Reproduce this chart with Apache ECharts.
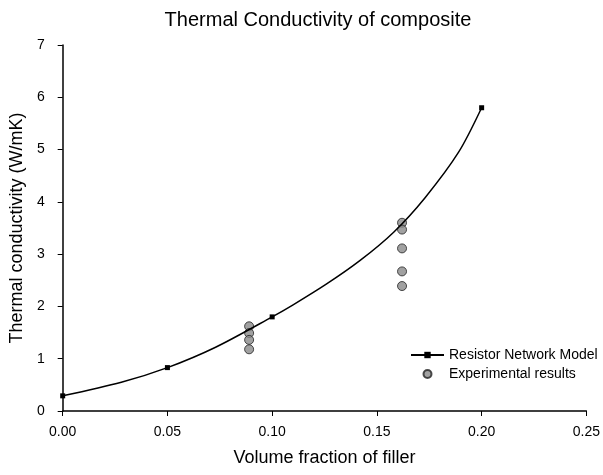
<!DOCTYPE html>
<html lang="en">
<head>
    <meta charset="UTF-8">
    <title>Thermal Conductivity of composite</title>
    <style>
        html, body { margin: 0; padding: 0; background: #fff; }
        #chart { width: 603px; height: 475px; }
    </style>
</head>
<body>
<div id="chart"></div>
<script src="https://cdn.jsdelivr.net/npm/echarts@6/dist/echarts.min.js"></script>
<script type="text/javascript">

    // model points (square markers)
    var modelX = [0.00, 0.05, 0.10, 0.20];
    var modelY = [0.29, 0.83, 1.80, 5.80];

    // model curve
    var curveX = [0.000, 0.028, 0.050, 0.073, 0.100, 0.110, 0.126, 0.142, 0.158, 0.173, 0.189, 0.200];
    var curveY = [0.29, 0.55, 0.83, 1.22, 1.80, 2.03, 2.43, 2.88, 3.42, 4.08, 4.95, 5.80];

    // experimental results
    var expX = [0.089, 0.089, 0.089, 0.089, 0.162, 0.162, 0.162, 0.162, 0.162];
    var expY = [1.62, 1.49, 1.36, 1.18, 3.60, 3.47, 3.11, 2.67, 2.39];

    var curveData = [];
    for (var i = 0; i < curveX.length; i++) {
        var item = { value: [curveX[i], curveY[i]] };
        if (modelX.indexOf(curveX[i]) < 0) item.symbol = 'none';
        curveData.push(item);
    }
    var expData = [];
    for (var j = 0; j < expX.length; j++) {
        expData.push([expX[j], expY[j]]);
    }

    var font = 'Liberation Sans, Arial, sans-serif';
    var myChart = echarts.init(document.getElementById('chart'));

    var option = {
        animation: false,
        backgroundColor: '#fff',
        title: {
            text: 'Thermal Conductivity of composite',
            left: 313,
            textAlign: 'center',
            top: 5,
            textStyle: { fontFamily: font, fontSize: 20, fontWeight: 'normal', color: '#000' }
        },
        grid: { left: 62, right: 15, top: 45, bottom: 64 },
        legend: {
            orient: 'vertical',
            left: 405,
            top: 343,
            itemWidth: 33,
            itemHeight: 8,
            itemGap: 5,
            textStyle: { fontFamily: font, fontSize: 14, color: '#000' },
            data: ['Resistor Network Model', 'Experimental results']
        },
        xAxis: {
            type: 'value',
            min: 0,
            max: 0.25,
            interval: 0.05,
            name: 'Volume fraction of filler',
            nameLocation: 'middle',
            nameGap: 38,
            nameTextStyle: { fontFamily: font, fontSize: 18, color: '#000' },
            splitLine: { show: false },
            axisLine: { lineStyle: { color: '#000', width: 1.5 } },
            axisTick: { length: 5, lineStyle: { color: '#000' } },
            axisLabel: {
                fontFamily: font, fontSize: 14, color: '#000', margin: 14,
                formatter: function (v) { return v.toFixed(2); }
            }
        },
        yAxis: {
            type: 'value',
            min: 0,
            max: 7,
            interval: 1,
            name: 'Thermal conductivity (W/mK)',
            nameLocation: 'middle',
            nameGap: 35,
            nameTextStyle: { fontFamily: font, fontSize: 18, color: '#000' },
            splitLine: { show: false },
            axisLine: { show: true, lineStyle: { color: '#000', width: 1.5 } },
            axisTick: { show: true, length: 5, lineStyle: { color: '#000' } },
            axisLabel: { fontFamily: font, fontSize: 14, color: '#000', margin: 18 }
        },
        series: [
            {
                name: 'Resistor Network Model',
                type: 'line',
                smooth: 0.3,
                symbol: 'rect',
                symbolSize: 5,
                showAllSymbol: true,
                lineStyle: { color: '#000', width: 1.5 },
                itemStyle: { color: '#000' },
                data: curveData
            },
            {
                name: 'Experimental results',
                type: 'scatter',
                symbol: 'circle',
                symbolSize: 9,
                itemStyle: { color: '#8a8a8a', borderColor: '#222', borderWidth: 1 },
                data: expData
            }
        ]
    };

    myChart.setOption(option);

</script>
</body>
</html>
